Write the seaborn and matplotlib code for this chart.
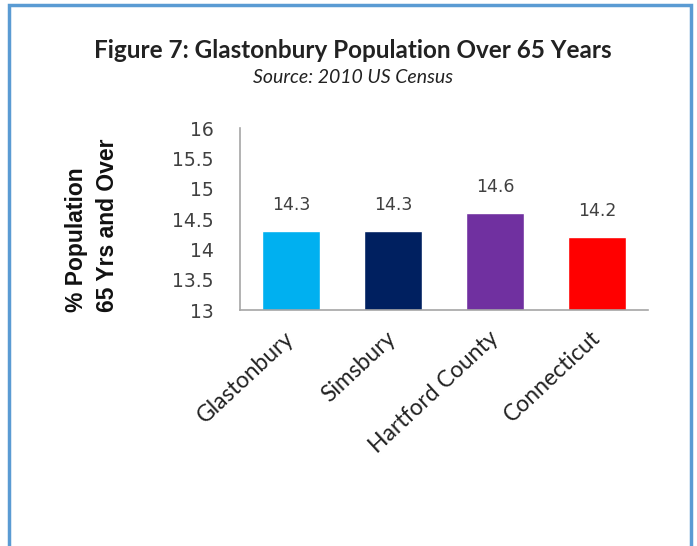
import matplotlib
matplotlib.use("Agg")
import matplotlib.pyplot as plt
import seaborn as sns
import pandas as pd
from matplotlib.patches import Rectangle

categories = ["Glastonbury", "Simsbury", "Hartford County", "Connecticut"]
values = [14.3, 14.3, 14.6, 14.2]
colors = ["#00B0F0", "#002060", "#7030A0", "#FF0000"]
yticks = [13, 13.5, 14, 14.5, 15, 15.5, 16]
ytick_labels = ["13", "13.5", "14", "14.5", "15", "15.5", "16"]

sns.set_theme(style="white")
plt.rcParams['font.family'] = ['DejaVu Sans']

df = pd.DataFrame({"cat": categories, "val": values})

fig = plt.figure(figsize=(6.97, 5.46), dpi=100)
ax = fig.add_axes([240/697, 1-310/546, 408/697, 182/546])
sns.barplot(data=df, x="cat", y="val", hue="cat", palette=colors, width=0.56,
            legend=False, ax=ax, saturation=1)
ax.set_ylim(13, 16)
ax.set_yticks(yticks)
ax.set_yticklabels(ytick_labels, fontsize=13.5, color="#404040")
ax.tick_params(axis='y', length=0, pad=19)
ax.tick_params(axis='x', length=0, pad=18)
ax.set_xlabel("")
ax.set_ylabel("")
for s in ["top", "right"]:
    ax.spines[s].set_visible(False)
for s in ["left", "bottom"]:
    ax.spines[s].set_color("#A6A6A6")
    ax.spines[s].set_linewidth(1.2)
ax.set_xticks(range(len(categories)))
ax.set_xticklabels(categories, rotation=43, ha="right", va="center",
                   rotation_mode="anchor", fontsize=16.5, color="#222222", family="Lato")

for i, v in enumerate(values):
    ax.text(i, v + 0.43, f"{v}", ha="center", va="center", fontsize=12.5, color="#404040")

fig.text(92/697, 1-225/546, "% Population\n65 Yrs and Over", rotation=90, ha="center",
         va="center", multialignment="left", fontsize=16.5, fontweight="bold",
         family="Liberation Sans", color="#111111", linespacing=1.45)

fig.text(353/697, 1-50/546, "Figure 7: Glastonbury Population Over 65 Years", ha="center",
         va="center", fontsize=17.5, fontweight="bold", family="Lato", color="#222222")
fig.text(353/697, 1-78/546, "Source: 2010 US Census", ha="center", va="center",
         fontsize=14, style="italic", family="Lato", color="#222222")

fig.patches.append(Rectangle((9/697, -0.05), 682/697, 1.05 - 5/546, transform=fig.transFigure,
                             fill=False, edgecolor="#5A9BD3", linewidth=2.5))

fig.savefig("out.png", dpi=100)
